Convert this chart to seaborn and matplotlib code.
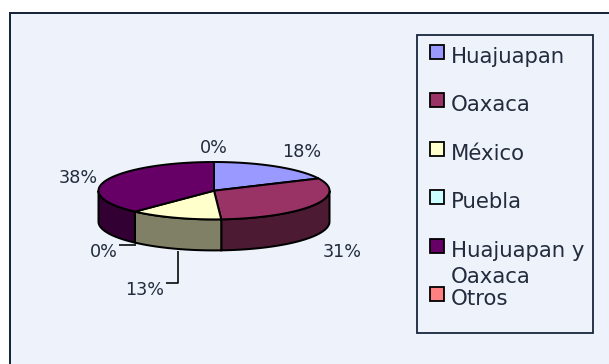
import textwrap

import numpy as np
import matplotlib
matplotlib.use("Agg")
import matplotlib.pyplot as plt
from matplotlib.patches import Polygon, Rectangle
import seaborn as sns

# ---- data -------------------------------------------------------------
categories = ["Huajuapan", "Oaxaca", "México", "Puebla", "Huajuapan y Oaxaca", "Otros"]
shares_pct = [18, 31, 13, 0, 38, 0]
slice_colors = ["#9999FF", "#993366", "#FFFFCC", "#CCFFFF", "#660066", "#FF8080"]

# ---- layout (pixel space, y grows downward) ---------------------------
W, H = 609, 364
CX, CY = 214.0, 190.7        # centre of the top face
RA, RB = 115.5, 28.7         # ellipse semi-axes
DEPTH = 31.0                 # height of the cylinder wall
START = 90.0                 # first slice starts at twelve o'clock, clockwise

# label anchors (centre x, baseline y) and optional leader lines
label_pos = [(302, 157), (342, 257), (145, 295), (104, 257), (78, 183), (214, 153)]
leader = [False, False, True, True, False, False]

BG = "#EEF2FB"
INK = "#222C3C"
FRAME = "#17263A"
PX = 0.72  # one pixel in points at 100 dpi

sns.set_theme(style="white")
plt.rcParams["font.family"] = ["DejaVu Sans"]

fig = plt.figure(figsize=(W / 100, H / 100), dpi=100)
fig.patch.set_facecolor("white")
ax = fig.add_axes([0, 0, 1, 1])
ax.set_xlim(0, W)
ax.set_ylim(H, 0)
ax.axis("off")

# chart area frame (runs past the right and bottom edges)
ax.add_patch(Rectangle((10, 13), W + 40, H + 40, facecolor=BG,
                       edgecolor=FRAME, lw=2 * PX, zorder=0))


def ell(theta_deg, dy=0.0):
    t = np.radians(theta_deg)
    return CX + RA * np.cos(t), CY - RB * np.sin(t) + dy


def arc(t1, t2, dy=0.0, n=80):
    ts = np.linspace(t1, t2, n)
    x, y = ell(ts, dy)
    return np.column_stack([x, y])


fracs = np.array(shares_pct, dtype=float) / np.sum(shares_pct)
bounds = START - 360.0 * np.concatenate([[0.0], np.cumsum(fracs)])

# cylinder walls: only the front half (-180..0 deg) is visible
for i, col in enumerate(slice_colors):
    hi = min(bounds[i], 0.0)
    lo = max(bounds[i + 1], -180.0)
    if hi - lo <= 1e-6:
        continue
    top = arc(hi, lo)
    bot = arc(lo, hi, DEPTH)
    side = tuple(0.5 * c for c in matplotlib.colors.to_rgb(col))
    ax.add_patch(Polygon(np.vstack([top, bot]), closed=True, facecolor=side,
                         edgecolor="black", lw=2 * PX, joinstyle="miter", zorder=2))

# top faces
for i, col in enumerate(slice_colors):
    if fracs[i] <= 0:
        continue
    pts = np.vstack([[CX, CY], arc(bounds[i], bounds[i + 1])])
    ax.add_patch(Polygon(pts, closed=True, facecolor=col, edgecolor="black",
                         lw=2 * PX, joinstyle="miter", zorder=3))

# percentage labels
for i, pct in enumerate(shares_pct):
    lx, ly = label_pos[i]
    ax.text(lx, ly, f"{pct}%", ha="center", va="baseline", fontsize=12.7,
            color=INK, zorder=5)
    if leader[i]:
        mid = 0.5 * (bounds[i] + bounds[i + 1])
        sx, sy = ell(mid, DEPTH)
        if fracs[i] > 0:
            ex = lx + 21
            ax.plot([sx + 3, sx + 3, ex], [sy + 2, ly - 12, ly - 12],
                    color="black", lw=1.6 * PX, zorder=4, solid_capstyle="butt")
        else:
            ax.plot([lx + 15, sx + 1], [ly - 12, ly - 12],
                    color="black", lw=1.6 * PX, zorder=4, solid_capstyle="butt")

# legend
LX0, LY0, LX1, LY1 = 417, 35, 593, 333
ax.add_patch(Rectangle((LX0, LY0), LX1 - LX0, LY1 - LY0, facecolor="none",
                       edgecolor=FRAME, lw=1.8 * PX, zorder=4))
row0, step = 52.0, 48.4
for i, (name, col) in enumerate(zip(categories, slice_colors)):
    yc = row0 + i * step
    ax.add_patch(Rectangle((430, yc - 7), 14, 14, facecolor=col,
                           edgecolor="black", lw=1.8 * PX, zorder=5))
    for j, line in enumerate(textwrap.wrap(name, 11)):
        ax.text(451, yc + 11 + j * 26.7, line, ha="left", va="baseline",
                fontsize=15.3, color=INK, zorder=5)

fig.savefig("out.png", dpi=100, facecolor="white")
